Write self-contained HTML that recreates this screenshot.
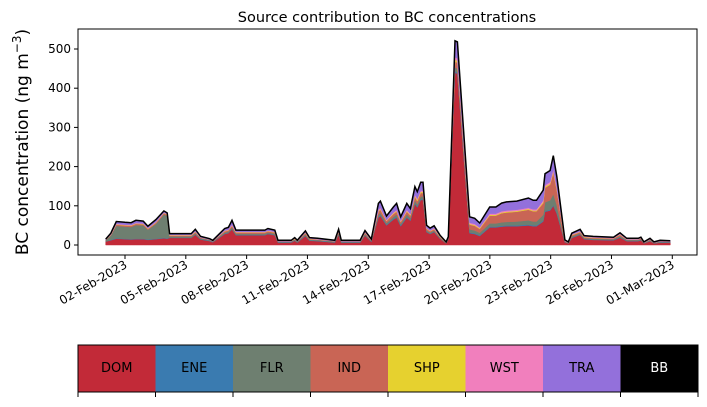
<!DOCTYPE html>
<html><head><meta charset="utf-8"><style>
body{margin:0;background:#fff;width:707px;height:402px;overflow:hidden;font-family:"Liberation Sans","DejaVu Sans",sans-serif}
svg text{font-family:"DejaVu Sans","Liberation Sans",sans-serif}
</style></head><body>
<svg id="c" width="707" height="402" xmlns="http://www.w3.org/2000/svg"></svg>
<script>
const times=[1.05,1.3,1.57,2.0,2.3,2.54,2.9,3.13,3.53,3.92,4.08,4.2,5.27,5.47,5.73,6.18,6.33,6.92,7.1,7.28,7.47,7.8,8.9,9.05,9.39,9.55,10.2,10.37,10.5,10.9,11.1,11.5,12.35,12.54,12.67,13.6,13.84,14.15,14.5,14.6,14.9,15.24,15.4,15.6,15.9,16.08,16.3,16.42,16.59,16.7,16.88,17.05,17.25,17.54,17.84,17.95,18.28,18.4,19.0,19.25,19.5,19.99,20.3,20.58,20.82,21.33,21.9,22.14,22.3,22.63,22.72,22.97,23.13,23.3,23.7,23.87,24.04,24.45,24.65,25.1,26.1,26.42,26.75,27.32,27.45,27.6,27.9,28.1,28.4,28.9];
const DOM=[9,12,16,15,14,15,15,13,15,17,16,18,18,26,14,10,7,28,30,40,25,25,25,28,25,6,6,11,6,23,11,10,6,26,6,6,24,8,70,74,50,65,70,48,70,62,105,96,115,115,33,28,33,16,4,14,440,437,30,28,23,45,45,47,48,48,50,48,48,60,85,88,100,80,7,4,18,26,15,13,12,19,10,10,12,4,10,4,6,6];
const ENE=[0,1,1,1,1,1,1,1,1,1,1,1,1,1,1,1,1,1,1,1,1,1,1,1,1,1,1,1,1,1,1,1,1,1,1,1,1,1,2,2,2,2,2,2,2,2,2,2,2,2,1,1,1,1,0,1,3,3,2,2,2,2,2,2,2,2,2,2,2,2,2,2,2,2,1,0,1,1,1,1,1,1,1,1,1,0,1,0,1,1];
const FLR=[3,11,32,31,31,35,34,25,38,60,57,3,3,3,2,2,1,3,3,4,3,3,3,3,3,2,2,2,2,3,2,2,2,3,2,2,3,2,6,6,4,5,6,4,6,5,7,6,7,7,3,3,3,2,1,2,10,10,8,7,6,8,8,9,9,10,11,10,10,15,22,24,28,20,1,1,3,3,2,2,2,3,2,2,2,1,2,1,2,1];
const IND=[1,2,3,3,3,3,3,2,3,3,3,2,2,3,2,1,1,3,3,4,3,3,3,3,3,1,1,1,1,3,1,1,1,3,1,1,3,1,7,8,5,7,7,5,7,6,9,8,9,9,4,3,3,2,1,1,15,15,12,12,10,20,20,23,24,25,27,26,26,30,37,40,55,38,1,1,3,3,2,2,2,3,1,1,2,1,1,1,1,1];
const SHP=[0,0,1,1,1,1,1,1,1,1,1,1,1,1,0,0,0,1,1,1,1,1,1,1,1,0,0,1,0,1,1,0,0,1,0,0,1,0,2,2,1,2,2,1,2,2,3,3,3,3,1,1,1,1,0,0,5,5,2,2,2,2,2,2,2,2,2,2,2,3,3,3,3,3,0,0,1,1,1,1,0,1,0,0,0,0,0,0,0,0];
const WST=[0,1,1,1,1,1,1,1,1,1,1,1,1,1,1,0,0,1,1,2,1,1,1,1,1,0,0,1,0,1,1,1,0,1,0,0,1,1,3,3,2,2,3,2,3,2,3,3,3,3,2,1,2,1,0,1,6,6,3,3,2,3,3,3,3,3,3,3,3,4,4,4,5,4,1,0,1,1,1,1,1,1,1,1,1,0,1,0,0,0];
const TRA=[2,3,6,6,6,7,6,5,6,4,3,3,3,5,2,2,2,5,6,11,4,4,4,5,4,2,2,2,2,4,2,2,2,5,2,2,4,2,16,17,10,14,16,10,16,14,20,18,21,21,6,6,6,2,2,2,42,42,15,14,11,17,17,21,22,22,25,23,23,26,29,29,35,28,2,2,3,5,2,2,2,3,2,2,2,2,2,2,2,2];
const seriesNames=["DOM","ENE","FLR","IND","SHP","WST","TRA"];
const seriesColors=["#c22a38","#3a7bb0","#6e7f70","#c96555","#e6d12f","#f17fbd","#9370db"];
const yTicks=[0,100,200,300,400,500];
const xTickDays=[2,5,8,11,14,17,20,23,26,29];
const xTickLabels=["02-Feb-2023","05-Feb-2023","08-Feb-2023","11-Feb-2023","14-Feb-2023","17-Feb-2023","20-Feb-2023","23-Feb-2023","26-Feb-2023","01-Mar-2023"];
const legendNames=["DOM","ENE","FLR","IND","SHP","WST","TRA","BB"];
const legendColors=["#c22a38","#3a7bb0","#6e7f70","#c96555","#e6d12f","#f17fbd","#9370db","#000000"];

const NS="http://www.w3.org/2000/svg",svg=document.getElementById("c");
function mk(t,a,p){const e=document.createElementNS(NS,t);for(const k in a)e.setAttribute(k,a[k]);(p||svg).appendChild(e);return e;}
const L=78,R=697,T=29,B=255;
const X=d=>125+(d-2)*20.27;
const Y=v=>245-v*0.392;
const data=[DOM,ENE,FLR,IND,SHP,WST,TRA];
let base=times.map(()=>0);
data.forEach((s,i)=>{
  const top=base.map((b,j)=>b+s[j]);
  let d="M"+times.map((t,j)=>X(t).toFixed(1)+","+Y(top[j]).toFixed(1)).join("L");
  for(let j=times.length-1;j>=0;j--)d+="L"+X(times[j]).toFixed(1)+","+Y(base[j]).toFixed(1);
  const p=mk("path",{d:d+"Z",fill:seriesColors[i],stroke:seriesColors[i],"stroke-width":0.5});
  
  
  base=top;
});
const tl=mk("polyline",{points:times.map((t,j)=>X(t).toFixed(1)+","+Y(base[j]).toFixed(1)).join(" "),fill:"none",stroke:"#000","stroke-width":1.5});


const fr=mk("rect",{x:L,y:T,width:R-L,height:B-T,fill:"none",stroke:"#000","stroke-width":1});


yTicks.forEach(v=>{
  mk("line",{x1:L-4,x2:L,y1:Y(v),y2:Y(v),stroke:"#000"});
  const t=mk("text",{x:L-7,y:Y(v)+4,"text-anchor":"end","font-size":"12"});t.textContent=v;
  
  
});
xTickDays.forEach((d,i)=>{
  const x=X(d);
  mk("line",{x1:x,x2:x,y1:B,y2:B+4,stroke:"#000"});
  const t=mk("text",{x:x+3,y:B+12,"text-anchor":"end","font-size":"12",transform:`rotate(-30 ${x+3} ${B+12})`});
  t.textContent=xTickLabels[i];
  
  
});
const ti=mk("text",{x:387,y:22,"text-anchor":"middle","font-size":"14.5"});ti.textContent="Source contribution to BC concentrations";


const yl=mk("text",{x:28,y:142,"text-anchor":"middle","font-size":"17",transform:"rotate(-90 28 142)"});
yl.innerHTML='BC concentration (ng m<tspan dy="-7" font-size="12">−3</tspan><tspan dy="7">)</tspan>';


const cw=(R+1-L)/legendNames.length;
legendNames.forEach((n,i)=>{
  const x=L+i*cw;
  const r=mk("rect",{x:x,y:345,width:cw+0.5,height:47,fill:legendColors[i]});
  
  
  const t=mk("text",{x:x+cw/2,y:372,"text-anchor":"middle","font-size":"13",fill:n==="BB"?"#fff":"#000"});t.textContent=n;
  
  
});
for(let i=0;i<=legendNames.length;i++){const x=L+i*cw;mk("line",{x1:x,x2:x,y1:392,y2:397,stroke:"#000"});}
const cb=mk("rect",{x:L,y:345,width:R+1-L,height:47,fill:"none",stroke:"#000"});


</script>
</body></html>
